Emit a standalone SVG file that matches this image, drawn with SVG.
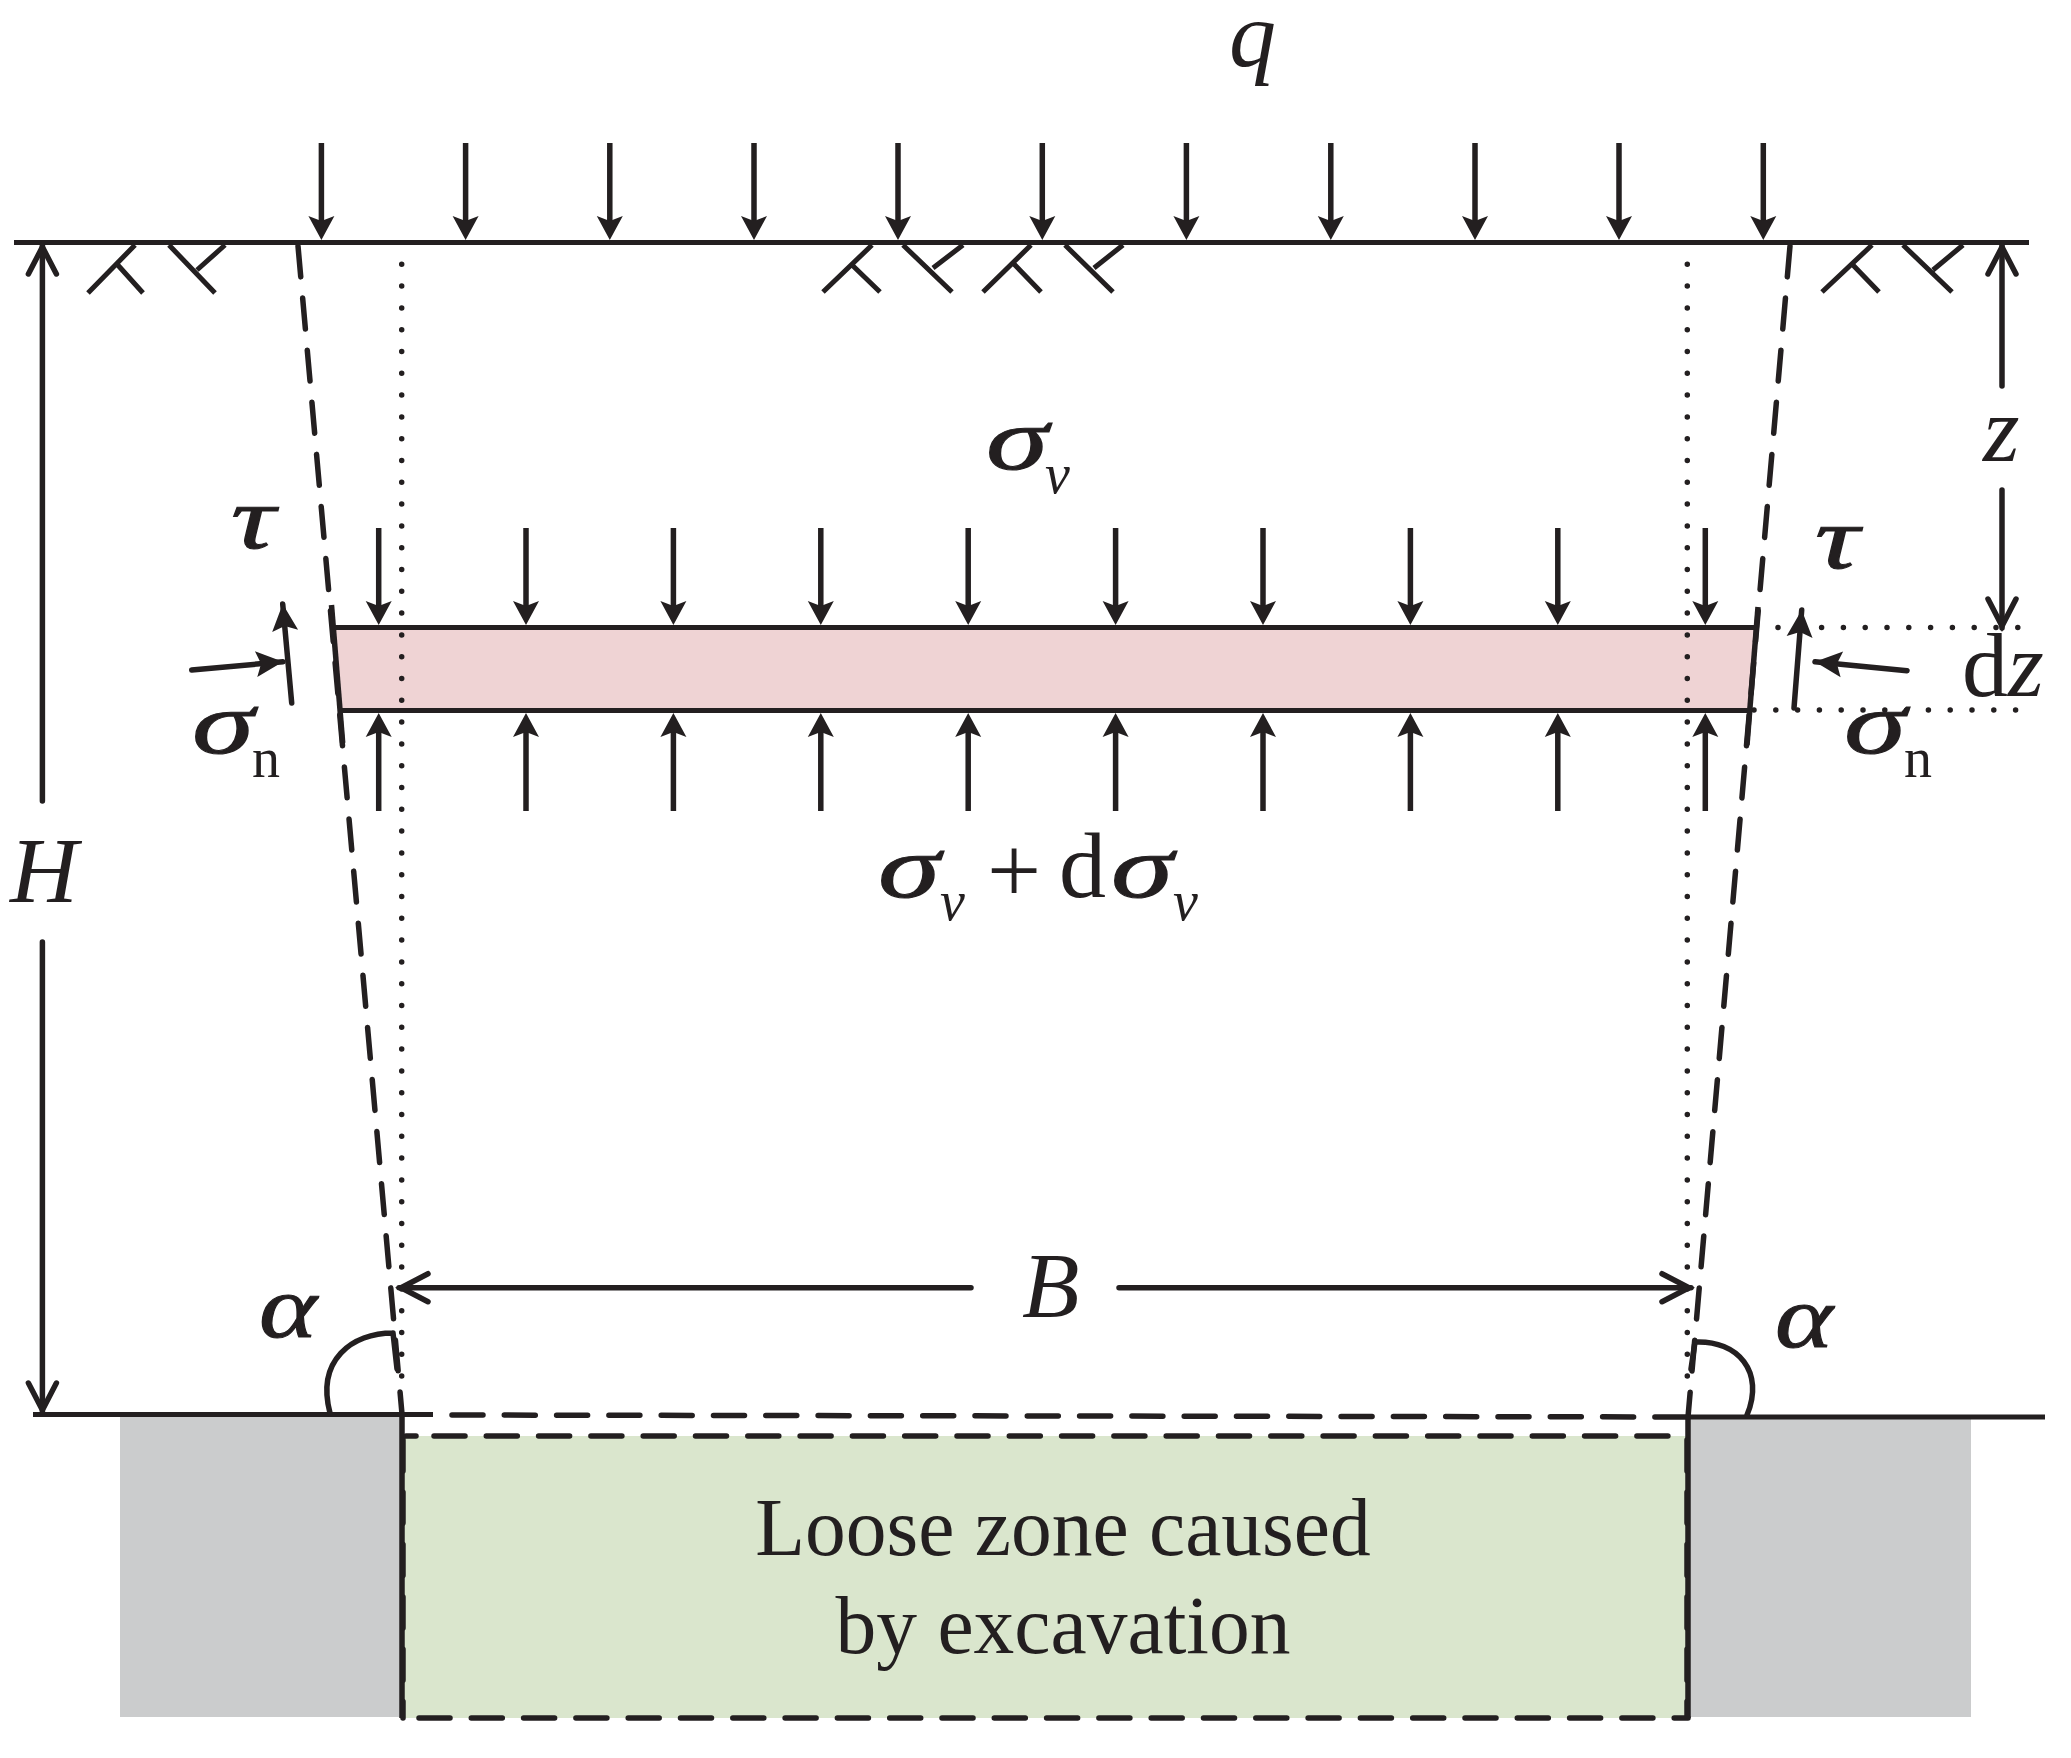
<svg xmlns="http://www.w3.org/2000/svg" width="2071" height="1758" viewBox="0 0 2071 1758">
<style>
.l{fill:none;stroke:#231f20;stroke-width:5.5;stroke-linecap:butt}
.n{fill:none;stroke:#231f20;stroke-width:5;stroke-linecap:butt}
.r{fill:none;stroke:#231f20;stroke-width:5.5;stroke-linecap:round}
.d{fill:none;stroke:#231f20;stroke-width:5.5;stroke-linecap:round;stroke-dasharray:31 21.3}
.o{fill:none;stroke:#231f20;stroke-width:5.5;stroke-linecap:round;stroke-dasharray:0 21.8}
text{fill:#231f20;font-family:"Liberation Serif","Times New Roman",serif}
.m{font-size:94px;font-style:italic}
.g{font-size:88px;font-style:italic;stroke:#231f20;stroke-width:1}
.s{font-size:56px}
.si{font-size:56px;font-style:italic}
.t{font-size:81.5px;text-anchor:middle}
</style>
<defs>
<path id="h" d="M0 0L-13 -24L0 -19L13 -24Z" fill="#231f20"/>
<marker id="f" markerUnits="userSpaceOnUse" markerWidth="32" markerHeight="32" refX="28" refY="16" orient="auto"><path d="M28 16L1 3L6 16L1 29Z" fill="#231f20"/></marker>
<marker id="p" markerUnits="userSpaceOnUse" markerWidth="40" markerHeight="40" refX="34" refY="20" orient="auto"><path d="M5 6L32 20L5 34" fill="none" stroke="#231f20" stroke-width="5.5" stroke-linecap="round" stroke-linejoin="miter"/></marker>
</defs>
<g id="regions">
<rect x="120" y="1417" width="282" height="300" fill="#cbcccd"/>
<rect x="1688" y="1418" width="283" height="299" fill="#cbcccd"/>
<rect x="403" y="1436" width="1285" height="282" fill="#dae6cd"/>
<polygon id="element" points="333,627 1757,627 1750,711 342,711" fill="#efd3d4"/>
</g>
<g id="connectors">
<path class="n" d="M14 242.5H2029"/>
<g id="soil">
<path class="n" d="M135 245L88 293M116 263L143 293M169 245L215 293M197 270L225 245"/>
<path class="n" d="M872 245L823 292M850 263L880 292M903 245L952 292M933 268L963 245"/>
<path class="n" d="M1031 245L983 292M1013 263L1041 292M1065 245L1113 292M1094 268L1123 245"/>
<path class="n" d="M1872 245L1822 292M1851 263L1879 292M1903 245L1952 292M1933 270L1963 245"/>
</g>
<path class="o" d="M401.7 264.3V1380"/>
<path class="o" d="M1687.3 264.3V1380"/>
<path class="o" d="M1778 627.5H2019"/>
<path class="o" d="M1754 710H2019"/>
<path class="d" d="M298 246L402 1414"/>
<path class="d" d="M1790 246L1688 1417"/>
<path class="l" d="M331.5 605L342.7 743"/>
<path class="l" d="M1758 607L1747 745"/>
<path class="n" d="M332 627.5H1757M342 710.5H1750"/>
<path class="n" d="M33 1414.5H433M1688 1417H2045"/>
<path class="d" d="M452 1415L1688 1417"/>
<path class="l" d="M402 1414V1718M1688 1417V1718"/>
<path class="d" d="M406 1436H416M434 1436H1686M419 1718H1688M403 1440V1718M1687 1440V1718"/>
<path class="r" d="M393 1333C352 1333 316 1360 330 1413M393 1333L397 1369"/>
<path class="r" d="M1695 1342C1738 1340 1765 1372 1747 1415M1695 1342L1691 1369"/>
<g id="load-top">
<path class="l" d="M321.4 143V222M465.6 143V222M609.8 143V222M754 143V222M898 143V222M1042.3 143V222M1186.4 143V222M1330.8 143V222M1475 143V222M1619 143V222M1763.3 143V222"/>
<use href="#h" x="321.4" y="240"/><use href="#h" x="465.6" y="240"/><use href="#h" x="609.8" y="240"/><use href="#h" x="754" y="240"/><use href="#h" x="898" y="240"/><use href="#h" x="1042.3" y="240"/><use href="#h" x="1186.4" y="240"/><use href="#h" x="1330.8" y="240"/><use href="#h" x="1475" y="240"/><use href="#h" x="1619" y="240"/><use href="#h" x="1763.3" y="240"/>
</g>
<g id="load-upper">
<path class="l" d="M378.7 528V607M526 528V607M673.4 528V607M820.8 528V607M968.2 528V607M1115.6 528V607M1263 528V607M1410.4 528V607M1557.8 528V607M1705.3 528V607"/>
<use href="#h" x="378.7" y="625"/><use href="#h" x="526" y="625"/><use href="#h" x="673.4" y="625"/><use href="#h" x="820.8" y="625"/><use href="#h" x="968.2" y="625"/><use href="#h" x="1115.6" y="625"/><use href="#h" x="1263" y="625"/><use href="#h" x="1410.4" y="625"/><use href="#h" x="1557.8" y="625"/><use href="#h" x="1705.3" y="625"/>
</g>
<g id="load-lower">
<path class="l" d="M378.7 811V732M526 811V732M673.4 811V732M820.8 811V732M968.2 811V732M1115.6 811V732M1263 811V732M1410.4 811V732M1557.8 811V732M1705.3 811V732"/>
<g transform="translate(0 1338) scale(1 -1)"><use href="#h" x="378.7" y="625"/><use href="#h" x="526" y="625"/><use href="#h" x="673.4" y="625"/><use href="#h" x="820.8" y="625"/><use href="#h" x="968.2" y="625"/><use href="#h" x="1115.6" y="625"/><use href="#h" x="1263" y="625"/><use href="#h" x="1410.4" y="625"/><use href="#h" x="1557.8" y="625"/><use href="#h" x="1705.3" y="625"/></g>
</g>
<path class="r" marker-end="url(#f)" d="M291.7 703L282.7 604"/>
<path class="r" marker-end="url(#f)" d="M191.7 670L283 661.7"/>
<path class="r" marker-end="url(#f)" d="M1794 708L1801.7 610"/>
<path class="r" marker-end="url(#f)" d="M1907 670.7L1815 661.7"/>
<path class="r" marker-end="url(#p)" d="M42.4 801V245"/>
<path class="r" marker-end="url(#p)" d="M42.4 942V1412"/>
<path class="r" marker-end="url(#p)" d="M2002 386V245"/>
<path class="r" marker-end="url(#p)" d="M2002 490V628"/>
<path class="r" marker-end="url(#p)" d="M971 1287.7H399"/>
<path class="r" marker-end="url(#p)" d="M1119 1287.7H1691"/>
</g>
<g id="labels">
<text class="m" x="1229" y="66">q</text>
<text class="m" x="10" y="902">H</text>
<text class="m" x="1983" y="461">z</text>
<text class="m" x="1022" y="1317">B</text>
<text class="g" x="259" y="1337" textLength="58" lengthAdjust="spacingAndGlyphs">α</text>
<text class="g" x="1775" y="1347" textLength="58" lengthAdjust="spacingAndGlyphs">α</text>
<text class="g" x="231" y="548" textLength="44" lengthAdjust="spacingAndGlyphs">τ</text>
<text class="g" x="1815" y="568" textLength="44" lengthAdjust="spacingAndGlyphs">τ</text>
<text class="g" x="192" y="753" textLength="62" lengthAdjust="spacingAndGlyphs">σ</text><text class="s" x="252" y="777">n</text>
<text class="g" x="1844" y="753" textLength="62" lengthAdjust="spacingAndGlyphs">σ</text><text class="s" x="1904" y="777">n</text>
<text class="g" x="986" y="469" textLength="62" lengthAdjust="spacingAndGlyphs">σ</text><text class="si" x="1045" y="493">v</text>
<text x="1962" y="696" font-size="92">d<tspan font-style="italic">z</tspan></text>
<text class="g" x="878" y="897" textLength="62" lengthAdjust="spacingAndGlyphs">σ</text><text class="si" x="940" y="920">v</text>
<text x="987" y="902" font-size="96">+</text>
<text x="1059" y="897" font-size="94">d</text>
<text class="g" x="1111" y="897" textLength="62" lengthAdjust="spacingAndGlyphs">σ</text><text class="si" x="1173" y="920">v</text>
<text class="t" x="1063" y="1555">Loose zone caused</text>
<text class="t" x="1063" y="1653">by excavation</text>
</g>
</svg>
